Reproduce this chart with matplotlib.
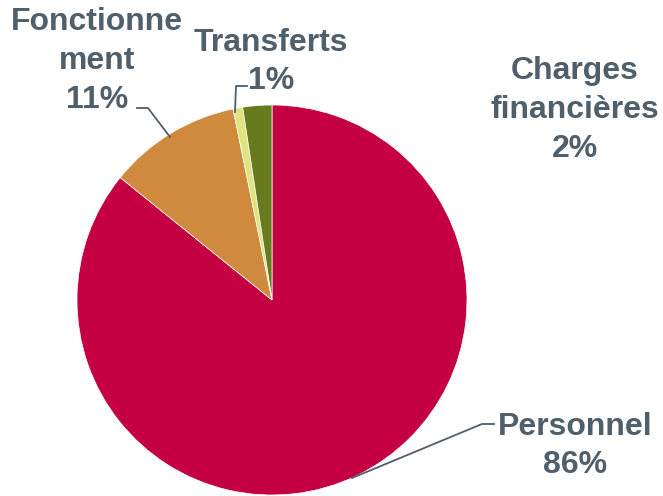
import matplotlib.pyplot as plt

# Data
labels = ["Personnel", "Fonctionne\nment", "Transferts", "Charges\nfinancières"]
values = [85.8, 11.0, 0.8, 2.4]
colors = ["#C40042", "#D08A3E", "#E0E480", "#687A1E"]

text_color = "#4F5F6B"
plt.rcParams['font.family'] = ['Liberation Sans', 'DejaVu Sans']

fig = plt.figure(figsize=(6.63, 4.96), dpi=100)
W, H = 663, 496
cx, cy, r = 272, 300, 195
ax = fig.add_axes([(cx - r) / W, (H - cy - r) / H, 2 * r / W, 2 * r / H])

wedges, _ = ax.pie(values, colors=colors, startangle=90, counterclock=False,
                   radius=1, wedgeprops=dict(linewidth=0.5, edgecolor="white"))
ax.set_xlim(-1, 1)
ax.set_ylim(-1, 1)
ax.set_aspect("equal")
ax.axis("off")


# pixel (from top-left) -> data coordinates of the pie axes
def px(x, y):
    return ((x - cx) / r, (cy - y) / r)


pct = ["%.0f%%" % v for v in values]
fs = 23

# label positions (text centre) and leader lines in pixels
label_pos = [(575, 446), (97, 61), (271, 62), (575, 110)]
leaders = [
    [(352, 478), (482, 424), (494, 424)],
    [(170, 137), (148, 108), (137, 108)],
    [(235, 112), (236, 86), (247, 86)],
    None,
]

for lab, p, pos, lead in zip(labels, pct, label_pos, leaders):
    tx, ty = px(*pos)
    ax.text(tx, ty, lab + "\n" + p, ha="center", va="center", fontsize=fs,
            fontweight="bold", color=text_color, linespacing=1.38,
            clip_on=False)
    if lead is not None:
        pts = [px(*q) for q in lead]
        ax.plot([q[0] for q in pts], [q[1] for q in pts], color=text_color,
                lw=1.3, clip_on=False)

fig.savefig("out.png", dpi=100)
